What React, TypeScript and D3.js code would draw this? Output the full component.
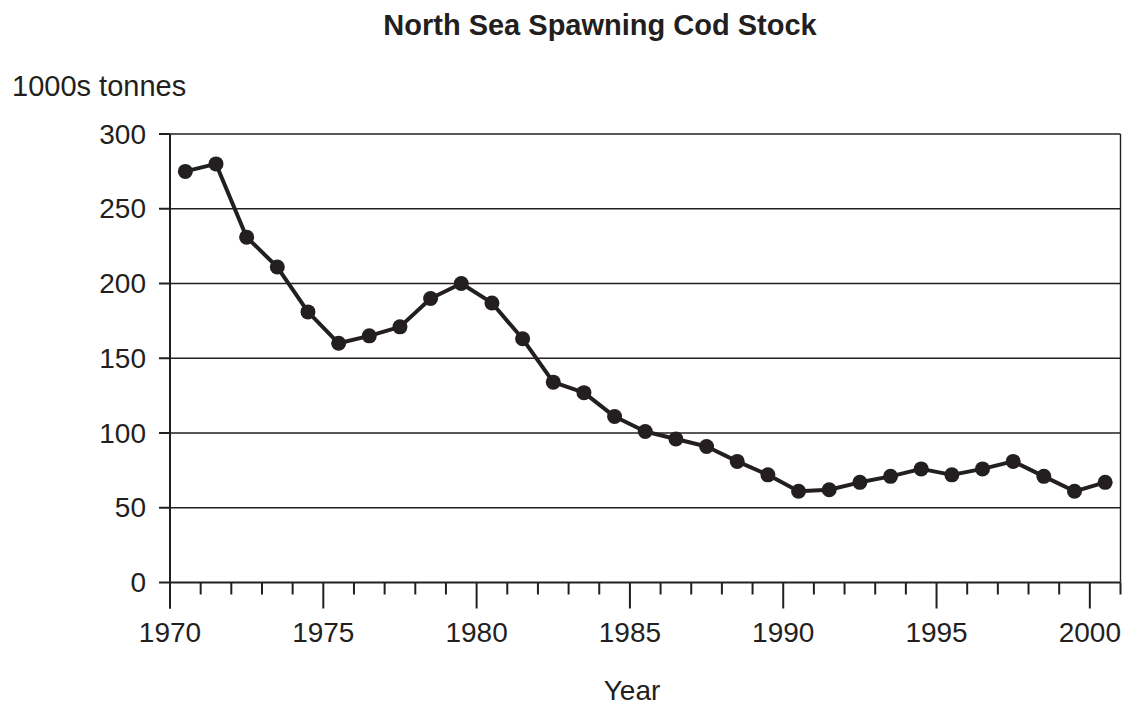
import React from "react";
import * as d3 from "d3";

const years: number[] = [
  1970, 1971, 1972, 1973, 1974, 1975, 1976, 1977, 1978, 1979,
  1980, 1981, 1982, 1983, 1984, 1985, 1986, 1987, 1988, 1989,
  1990, 1991, 1992, 1993, 1994, 1995, 1996, 1997, 1998, 1999, 2000,
];
const stock: number[] = [
  275, 280, 231, 211, 181, 160, 165, 171, 190, 200,
  187, 163, 134, 127, 111, 101, 96, 91, 81, 72,
  61, 62, 67, 71, 76, 72, 76, 81, 71, 61, 67,
];
const yTicks: number[] = [0, 50, 100, 150, 200, 250, 300];
const xLabels: number[] = [1970, 1975, 1980, 1985, 1990, 1995, 2000];
const title = "North Sea Spawning Cod Stock";
const yTitle = "1000s tonnes";
const xTitle = "Year";

const W = 1129;
const H = 709;
const INK = "#231f20";
const FONT = "'Liberation Sans', Arial, Helvetica, sans-serif";

export default function App() {
  const x = d3.scaleLinear().domain([1970, 2001]).range([170, 1120.5]);
  const y = d3.scaleLinear().domain([0, 300]).range([582.5, 134]);

  const data = years.map((yr, i) => ({ yr, v: stock[i] }));
  const line = d3
    .line<{ yr: number; v: number }>()
    .x((d) => x(d.yr + 0.5))
    .y((d) => y(d.v));

  const tickYears = d3.range(1970, 2002);

  return (
    <div style={{ position: "fixed", left: 0, top: 0, width: W, height: H, background: "#fff" }}>
      <svg width={W} height={H} style={{ display: "block" }} fontFamily={FONT}>
        <rect x={0} y={0} width={W} height={H} fill="#fff" />
        <text x={600} y={35} textAnchor="middle" fontWeight="bold" fontSize={29} fill={INK}>
          {title}
        </text>
        <text x={12} y={96} fontSize={29} fill={INK}>
          {yTitle}
        </text>

        {/* gridlines */}
        {yTicks.filter((t) => t > 0).map((t) => (
          <line key={"g" + t} x1={x(1970)} x2={x(2001)} y1={y(t)} y2={y(t)} stroke={INK} strokeWidth={1.4} />
        ))}
        {/* right border */}
        <line x1={x(2001)} x2={x(2001)} y1={y(300)} y2={y(0)} stroke={INK} strokeWidth={1.4} />

        {/* y ticks and labels */}
        {yTicks.map((t) => (
          <g key={"y" + t}>
            <line x1={159} x2={x(1970)} y1={y(t)} y2={y(t)} stroke={INK} strokeWidth={2} />
            <text x={146} y={y(t)} dy="0.34em" textAnchor="end" fontSize={28} fill={INK}>
              {t}
            </text>
          </g>
        ))}

        {/* x ticks */}
        {tickYears.map((yr) => {
          const major = yr % 5 === 0;
          return (
            <line
              key={"xt" + yr}
              x1={x(yr)}
              x2={x(yr)}
              y1={y(0)}
              y2={major ? 608.5 : 594.5}
              stroke={INK}
              strokeWidth={2}
            />
          );
        })}
        {xLabels.map((yr) => (
          <text key={"xl" + yr} x={x(yr)} y={641.5} textAnchor="middle" fontSize={28} fill={INK}>
            {yr}
          </text>
        ))}

        {/* axes */}
        <line x1={x(1970)} x2={x(1970)} y1={y(300)} y2={608.5} stroke={INK} strokeWidth={2} />
        <line x1={x(1970)} x2={x(2001)} y1={y(0)} y2={y(0)} stroke={INK} strokeWidth={2} />

        <text x={632} y={700} textAnchor="middle" fontSize={28} fill={INK}>
          {xTitle}
        </text>

        {/* series */}
        <path d={line(data) || ""} fill="none" stroke={INK} strokeWidth={4} strokeLinejoin="round" />
        {data.map((d) => (
          <circle key={"p" + d.yr} cx={x(d.yr + 0.5)} cy={y(d.v)} r={7.5} fill={INK} />
        ))}
      </svg>
    </div>
  );
}
